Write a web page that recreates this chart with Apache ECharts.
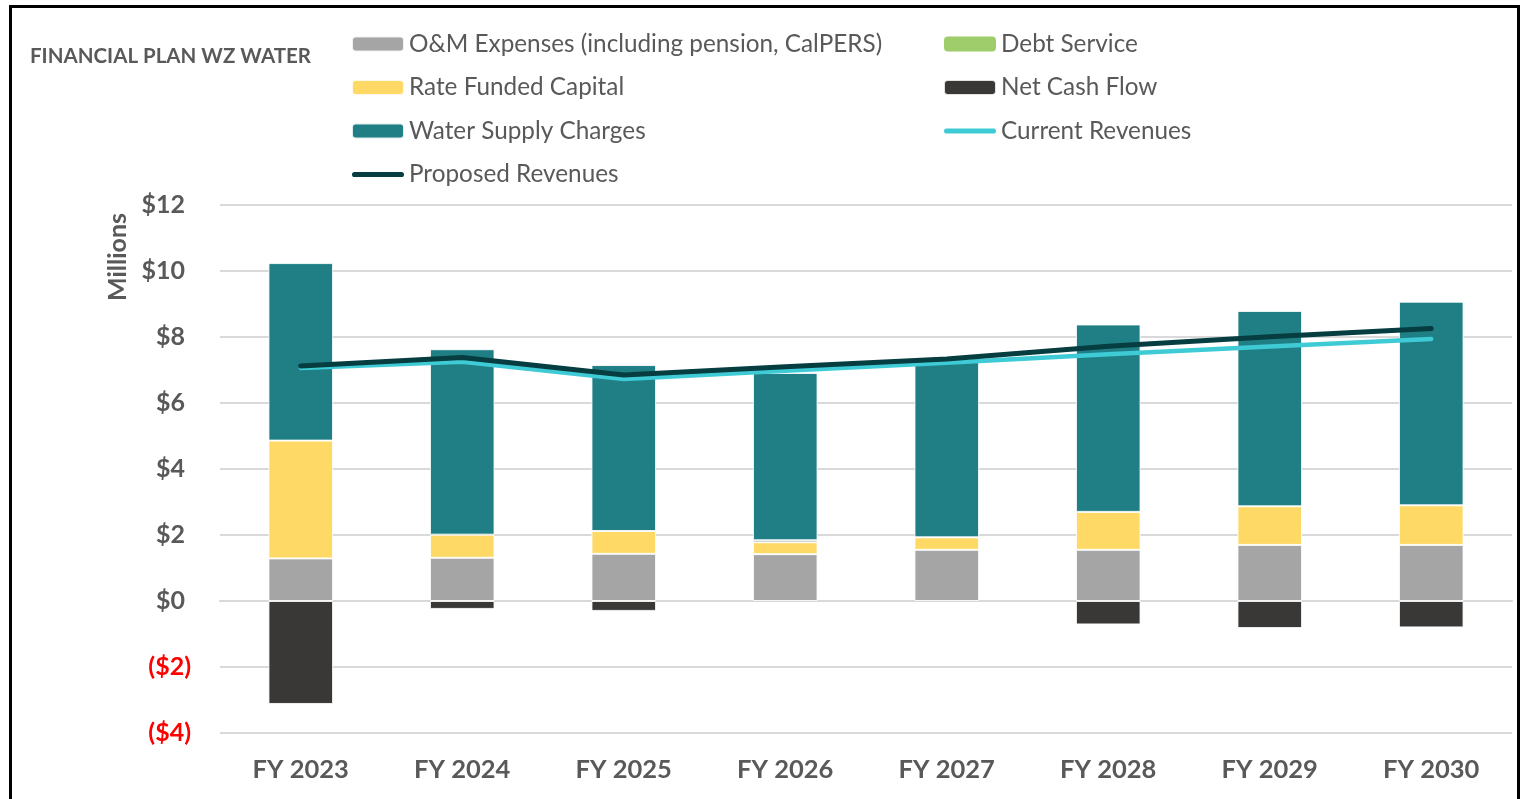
<!DOCTYPE html>
<html>
<head>
<meta charset="utf-8">
<script src="https://cdn.jsdelivr.net/npm/echarts@6/dist/echarts.min.js"></script>
<style>
  html, body { margin: 0; padding: 0; background: #fff; overflow: hidden; }
  #chart { position: absolute; left: 0; top: 0; width: 1524px; height: 799px; }
  #frame { position: absolute; left: 9px; top: 5px; width: 1511px; height: 820px; box-sizing: border-box; border: 3px solid #000; pointer-events: none; }
</style>
</head>
<body>
<div id="chart"></div>
<div id="frame"></div>
<script>
const categories = ['FY 2023', 'FY 2024', 'FY 2025', 'FY 2026', 'FY 2027', 'FY 2028', 'FY 2029', 'FY 2030'];
const omExpenses = [1.29, 1.31, 1.43, 1.42, 1.55, 1.55, 1.70, 1.70];
const debtService = [0, 0, 0, 0, 0, 0, 0, 0];
const rateFundedCapital = [3.57, 0.70, 0.69, 0.36, 0.38, 1.15, 1.17, 1.20];
const netCashFlow = [-3.12, -0.24, -0.30, 0.06, 0, -0.71, -0.82, -0.80];
const waterSupplyCharges = [5.38, 5.62, 5.03, 5.07, 5.32, 5.68, 5.92, 6.17];
const currentRevenues = [7.06, 7.25, 6.73, 6.98, 7.22, 7.48, 7.71, 7.94];
const proposedRevenues = [7.12, 7.38, 6.85, 7.10, 7.33, 7.72, 8.01, 8.26];
const yMin = -4, yMax = 12, yStep = 2;

const FONT = 'Lato';
const GREY = '#595959';
const LINE_ICON = 'path://M2.5,0 H48.5 A2.5,2.5 0 0 1 48.5,5 H2.5 A2.5,2.5 0 0 1 2.5,0 Z';
const chart = echarts.init(document.getElementById('chart'), null, { renderer: 'canvas' });

const barBorder = { borderColor: 'rgba(255,255,255,0.85)', borderWidth: 1 };
function barSeries(name, data, color, extra) {
  return Object.assign({
    name, type: 'bar', stack: 'plan', data,
    barCategoryGap: '60%',
    itemStyle: Object.assign({ color }, barBorder),
    emphasis: { disabled: true }
  }, extra || {});
}

const legendText = { fontFamily: FONT, fontSize: 24.3, color: GREY, lineHeight: 26 };
const legendBase = { orient: 'vertical', top: 31, padding: 0, itemWidth: 52, itemHeight: 15, itemGap: 17.5, textStyle: legendText, selectedMode: false };

chart.setOption({
  animation: false,
  textStyle: { fontFamily: FONT },
  title: {
    text: 'FINANCIAL PLAN WZ WATER', left: 30, top: 46, padding: 0,
    textStyle: { fontFamily: FONT, fontSize: 20.5, fontWeight: 'bold', color: GREY }
  },
  graphic: [{
    type: 'text', x: 118, y: 257, rotation: Math.PI / 2,
    style: { text: 'Millions', fontFamily: FONT, fontSize: 25, fontWeight: 'bold', fill: GREY, align: 'center', verticalAlign: 'middle' }
  }],
  legend: [
    Object.assign({}, legendBase, {
      left: 351,
      data: ['O&M Expenses (including pension, CalPERS)', 'Rate Funded Capital', 'Water Supply Charges',
        { name: 'Proposed Revenues', icon: LINE_ICON }]
    }),
    Object.assign({}, legendBase, {
      left: 943,
      data: ['Debt Service', 'Net Cash Flow', { name: 'Current Revenues', icon: LINE_ICON }]
    })
  ],
  grid: { left: 220, right: 12, top: 205, bottom: 66, containLabel: false },
  xAxis: {
    type: 'category', data: categories,
    axisLine: { show: true, onZero: true, lineStyle: { color: '#d9d9d9', width: 2 } },
    axisTick: { show: false },
    axisLabel: { fontFamily: FONT, fontSize: 25.5, fontWeight: 'bold', color: GREY, margin: 24, interval: 0 }
  },
  yAxis: {
    type: 'value', min: yMin, max: yMax, interval: yStep,
    axisLine: { show: false }, axisTick: { show: false },
    splitLine: { lineStyle: { color: '#d9d9d9', width: 2 } },
    axisLabel: {
      margin: 29,
      formatter: v => v < 0 ? '{n|($' + (-v) + ')}' : '{p|$' + v + '}{s|}',
      rich: {
        n: { fontFamily: FONT, fontSize: 25, fontWeight: 'bold', color: '#ff0000' },
        p: { fontFamily: FONT, fontSize: 25, fontWeight: 'bold', color: GREY },
        s: { width: 6 }
      }
    }
  },
  series: [
    barSeries('O&M Expenses (including pension, CalPERS)', omExpenses, '#a5a5a5'),
    barSeries('Debt Service', debtService, '#a0cd6b', { itemStyle: { color: '#a0cd6b', borderWidth: 0 } }),
    barSeries('Rate Funded Capital', rateFundedCapital, '#fed966'),
    barSeries('Net Cash Flow', netCashFlow, '#3a3836'),
    barSeries('Water Supply Charges', waterSupplyCharges, '#1f7f85'),
    {
      name: 'Current Revenues', type: 'line', data: currentRevenues, symbol: 'none', z: 3,
      lineStyle: { color: '#3ecbd5', width: 4.5, cap: 'round', join: 'round' },
      itemStyle: { color: '#3ecbd5' }, emphasis: { disabled: true }
    },
    {
      name: 'Proposed Revenues', type: 'line', data: proposedRevenues, symbol: 'none', z: 4,
      lineStyle: { color: '#053d40', width: 5, cap: 'round', join: 'round' },
      itemStyle: { color: '#053d40' }, emphasis: { disabled: true }
    }
  ]
});
</script>
</body>
</html>
